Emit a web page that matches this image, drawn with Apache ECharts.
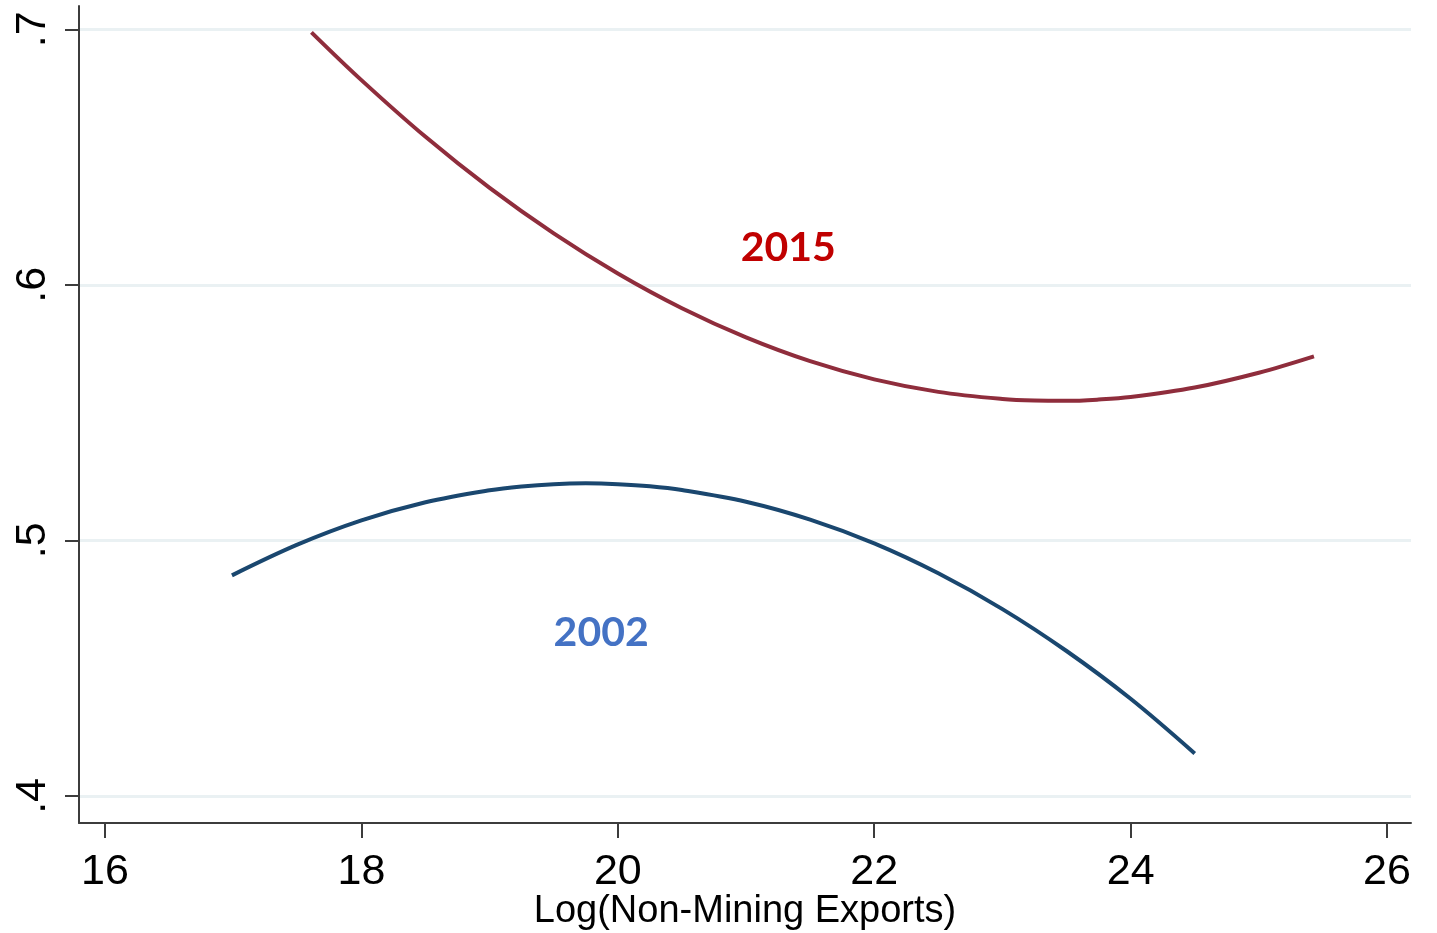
<!DOCTYPE html>
<html>
<head>
<meta charset="utf-8">
<title>Quadratic fit by year</title>
<script src="https://cdn.jsdelivr.net/npm/echarts@6/dist/echarts.min.js"></script>
<style>
  html, body { margin: 0; padding: 0; background: #ffffff; }
  #chart { width: 1437px; height: 933px; }
</style>
</head>
<body>
<div id="chart"></div>
<script>
// Axis ticks
const xTicks = [16, 18, 20, 22, 24, 26];
const yTicks = [0.4, 0.5, 0.6, 0.7];
const yTickLabels = ['.4', '.5', '.6', '.7'];

// Fitted curve, 2002
const x2002 = [16.99, 17.5, 18.0, 18.5, 19.0, 19.25, 19.5, 19.75, 20.0, 20.25, 20.5, 21.0, 21.5, 22.0, 22.5, 23.0, 23.5, 24.0, 24.5];
const y2002 = [0.4863, 0.4983, 0.5078, 0.5149, 0.5196, 0.5211, 0.5220, 0.5223, 0.5220, 0.5212, 0.5197, 0.5151, 0.5081, 0.4988, 0.4871, 0.4731, 0.4567, 0.4380, 0.4166];

// Fitted curve, 2015
const x2015 = [17.61, 18.0, 18.5, 19.0, 19.5, 20.0, 20.5, 21.0, 21.5, 22.0, 22.5, 23.0, 23.25, 23.5, 23.75, 24.0, 24.5, 25.0, 25.43];
const y2015 = [0.6988, 0.6801, 0.6579, 0.6379, 0.6201, 0.6044, 0.5908, 0.5794, 0.5701, 0.5630, 0.5581, 0.5553, 0.5547, 0.5546, 0.5551, 0.5561, 0.5598, 0.5656, 0.5720];

const seriesNames = ['2002', '2015'];

const zip = (xs, ys) => xs.map((x, i) => [x, ys[i]]);

const axisColor = '#3c3c3c';
const labelFont = "'Liberation Sans', Arial, sans-serif";

function yLabel(v) {
  const i = yTicks.findIndex(t => Math.abs(t - v) < 1e-6);
  return i >= 0 ? yTickLabels[i] : '';
}

function curve(name, xs, ys, lineColor, textColor, labelAt) {
  return {
    name: name,
    type: 'line',
    data: zip(xs, ys),
    smooth: 0.35,
    showSymbol: false,
    silent: true,
    lineStyle: { color: lineColor, width: 4 },
    itemStyle: { color: lineColor },
    markPoint: {
      symbol: 'circle',
      symbolSize: 0,
      silent: true,
      data: [{ coord: labelAt, value: name }],
      label: {
        show: true,
        position: 'inside',
        formatter: name,
        color: textColor,
        fontFamily: "Lato, 'Open Sans', sans-serif",
        fontWeight: 'bold',
        fontSize: 41
      }
    }
  };
}

const chart = echarts.init(document.getElementById('chart'), null, { renderer: 'canvas' });

chart.setOption({
  backgroundColor: '#ffffff',
  animation: false,
  grid: { left: 79, right: 26, top: 6, bottom: 110, containLabel: false, outerBoundsMode: 'none' },
  xAxis: {
    type: 'value',
    min: 15.797,
    max: 26.187,
    name: 'Log(Non-Mining Exports)',
    nameLocation: 'middle',
    nameGap: 70,
    nameMoveOverlap: false,
    nameTextStyle: { fontFamily: labelFont, fontSize: 38, color: '#000' },
    axisLine: { show: true, onZero: false, lineStyle: { color: axisColor, width: 2 } },
    axisTick: { show: true, length: 15, lineStyle: { color: axisColor, width: 2 }, customValues: xTicks },
    axisLabel: { customValues: xTicks, margin: 28, fontFamily: labelFont, fontSize: 43, color: '#000' },
    splitLine: { show: false }
  },
  yAxis: {
    type: 'value',
    min: 0.3894,
    max: 0.7091,
    axisLine: { show: true, onZero: false, lineStyle: { color: axisColor, width: 2 } },
    axisTick: { show: true, length: 14, lineStyle: { color: axisColor, width: 2 }, customValues: yTicks },
    axisLabel: {
      customValues: yTicks,
      rotate: 90,
      margin: 24,
      formatter: yLabel,
      fontFamily: labelFont,
      fontSize: 43,
      color: '#000'
    },
    splitLine: { show: true, lineStyle: { color: '#eaf1f3', width: 3 } }
  },
  series: [
    curve(seriesNames[0], x2002, y2002, '#1a476f', '#4472c4', [19.87, 0.464]),
    curve(seriesNames[1], x2015, y2015, '#8f2d3c', '#c00000', [21.33, 0.6145])
  ]
});
</script>
</body>
</html>
